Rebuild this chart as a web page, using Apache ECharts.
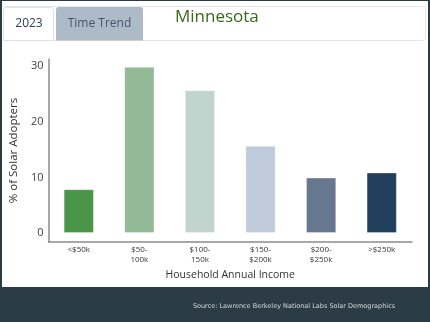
<!DOCTYPE html>
<html>
<head>
<meta charset="utf-8">
<script src="https://cdn.jsdelivr.net/npm/echarts@6/dist/echarts.min.js"></script>
<style>
  html, body { margin: 0; padding: 0; background: #2b3c46; }
  #chart { width: 430px; height: 322px; }
</style>
</head>
<body>
<div id="chart"></div>
<script>
// Share of solar adopters by household income bracket (Minnesota, 2023)
const incomeBrackets = ['<$50k', '$50-\n100k', '$100-\n150k', '$150-\n$200k', '$200-\n$250k', '>$250k'];
const adopterShare = [7.9, 29.9, 25.7, 15.7, 10.0, 10.9];
const yTickValues = [0, 10, 20, 30];

const barColors = ['#4a9548', '#93ba96', '#c1d4cd', '#bfcadb', '#66788f', '#213f5a'];
const font = '"Open Sans", "Noto Sans", sans-serif';

const chart = echarts.init(document.getElementById('chart'), null, { renderer: 'canvas' });

chart.setOption({
  backgroundColor: '#2b3c46',
  animation: false,
  title: {
    text: 'Minnesota',
    left: 170,
    top: 4,
    textStyle: { fontFamily: font, fontSize: 17, fontWeight: 'normal', color: '#3b671b' }
  },
  graphic: [
    { type: 'rect', z: -10, shape: { x: 2, y: 1, width: 426, height: 286 }, style: { fill: '#ffffff' }, silent: true },
    { type: 'rect', z: -9, shape: { x: 3.5, y: 6.5, width: 422, height: 34, r: 3 },
      style: { fill: '#ffffff', stroke: '#e4e6e8', lineWidth: 1 }, silent: true },
    { type: 'rect', z: -8, shape: { x: 3.5, y: 7.5, width: 50, height: 33, r: [3, 3, 0, 0] },
      style: { fill: '#ffffff', stroke: '#dfe2e6', lineWidth: 1 }, silent: true },
    { type: 'rect', z: -8, shape: { x: 56, y: 7, width: 87, height: 33.5, r: [3, 3, 0, 0] },
      style: { fill: '#adbac7' }, silent: true },
    { type: 'text', z: -7, style: { x: 29, y: 24, text: '2023', fill: '#2c3e50', font: '12px ' + font,
      align: 'center', verticalAlign: 'middle' }, silent: true },
    { type: 'text', z: -7, style: { x: 99.5, y: 24, text: 'Time Trend', fill: '#46566a', font: '12px ' + font,
      align: 'center', verticalAlign: 'middle' }, silent: true },
    { type: 'text', z: -7, style: { x: 294, y: 306, text: 'Source: Lawrence Berkeley National Labs Solar Demographics',
      fill: '#d4d8dc', font: '6.5px "DejaVu Sans", sans-serif', align: 'center', verticalAlign: 'middle' }, silent: true }
  ],
  grid: { left: 41, right: 18, top: 59, bottom: 80, containLabel: false },
  xAxis: {
    type: 'category',
    data: incomeBrackets,
    name: 'Household Annual Income',
    nameLocation: 'middle',
    nameGap: 25,
    nameTextStyle: { fontFamily: font, fontSize: 10.5, color: '#333' },
    axisLine: { onZero: false, lineStyle: { color: '#8c8c8c', width: 1.5 } },
    axisTick: { show: false },
    axisLabel: { fontFamily: font, fontSize: 8, color: '#333', margin: 3, lineHeight: 10, interval: 0 }
  },
  yAxis: {
    type: 'value',
    min: -1.6,
    max: 31.3,
    name: '% of Solar Adopters',
    nameLocation: 'middle',
    nameGap: 19,
    nameTextStyle: { fontFamily: font, fontSize: 11.5, color: '#333' },
    axisLine: { show: true, lineStyle: { color: '#8c8c8c', width: 1.5 } },
    axisTick: { show: false },
    splitLine: { show: false },
    axisLabel: { customValues: yTickValues, fontFamily: font, fontSize: 11, color: '#444', margin: 5 }
  },
  series: [{
    type: 'bar',
    barWidth: '50%',
    data: adopterShare.map((v, i) => ({
      value: v,
      itemStyle: { color: barColors[i], borderColor: 'rgba(255,255,255,0.35)', borderWidth: 1 }
    }))
  }]
});
</script>
</body>
</html>
